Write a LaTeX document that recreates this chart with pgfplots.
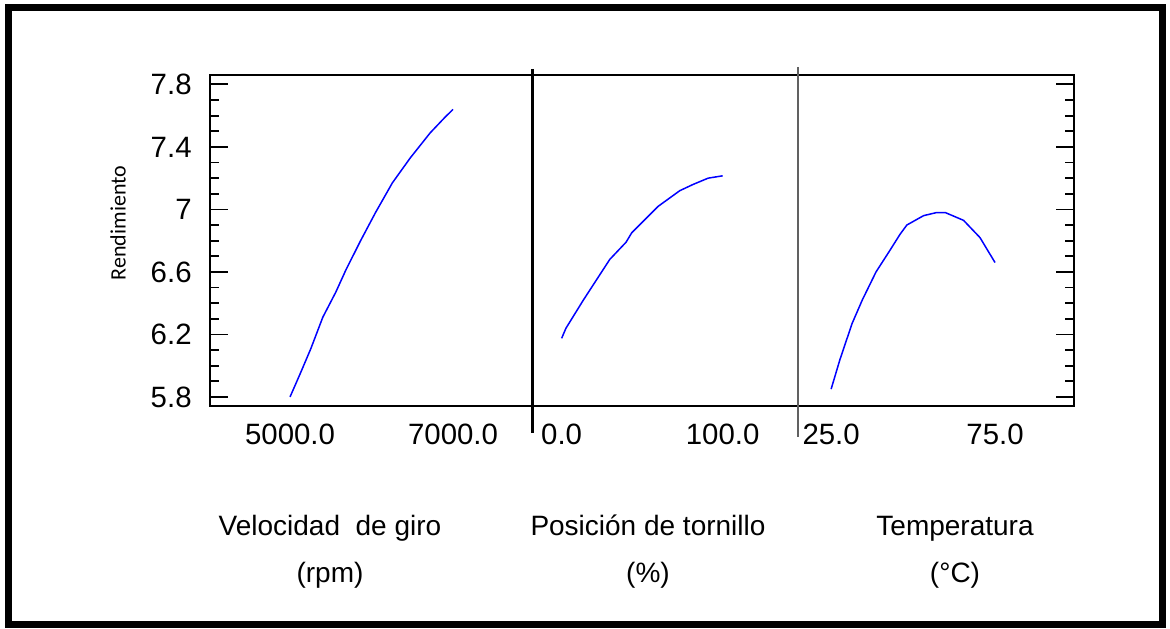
\documentclass[border=0pt]{standalone}
\usepackage{fontspec}
\setmainfont{Liberation Sans}
\newfontfamily\calfont{Carlito}
\usepackage{pgfplots}
\pgfplotsset{compat=1.18}

\pgfplotsset{
  panel/.style={
    scale only axis,
    height=165.5pt,
    ymin=5.742, ymax=7.86,
    axis line style={line width=0.9pt, black},
    tick align=inside,
    major tick length=9pt,
    minor tick length=4.5pt,
    every tick/.style={line width=0.9pt, black},
    xtick style={draw=none},
    minor y tick num=3,
    ytick={5.8,6.2,6.6,7,7.4,7.8},
    /pgf/number format/assume math mode=true,
    ticklabel style={font=\fontsize{14.7}{16}\selectfont},
    xticklabel style={anchor=base, yshift=-19pt},
    yticklabel style={anchor=east, inner sep=0pt, xshift=-9pt},
    clip=false,
  },
  curve/.style={blue, line width=0.75pt},
}

\begin{document}
\begin{tikzpicture}[x=0.5pt,y=0.5pt]
\useasboundingbox (0,0) rectangle (1170,628);
\draw[line width=3.5pt] (8,3.5) rectangle (1162,620.5);

% velocidad de giro
\begin{axis}[panel, at={(105pt,111pt)}, anchor=south west, width=161pt,
  xmin=4018, xmax=7969,
  xtick={5000,7000}, xticklabels={5000.0,7000.0},
  ytick pos=left]
\addplot[curve] coordinates {
  (5000,5.80) (5134,5.96) (5256,6.11) (5402,6.31) (5561,6.47)
  (5683,6.61) (5866,6.80) (6049,6.98) (6256,7.17) (6476,7.33)
  (6720,7.49) (6902,7.59) (7000,7.64)
};
\end{axis}

% posicion de tornillo
\begin{axis}[panel, at={(266pt,111pt)}, anchor=south west, width=133pt,
  xmin=-18.4, xmax=146.8,
  xtick={0,100}, xticklabels={0.0,100.0},
  ytick=\empty, minor y tick num=0]
\addplot[curve] coordinates {
  (0,6.175) (2.7,6.24) (13.5,6.42) (29.9,6.68) (40,6.79) (43.5,6.85)
  (60,7.02) (73.4,7.12) (81.7,7.16) (91,7.20) (100,7.215)
};
\end{axis}

% temperatura
\begin{axis}[panel, at={(399pt,111pt)}, anchor=south west, width=138pt,
  xmin=14.9, xmax=99.1,
  xtick={25,75}, xticklabels={25.0,75.0},
  ytick pos=right, yticklabels={}]
\addplot[curve] coordinates {
  (25,5.85) (27.7,6.04) (31.4,6.27) (34.5,6.42) (38.7,6.60) (43,6.74)
  (46,6.84) (48.1,6.90) (53.2,6.96) (57.2,6.98) (59.8,6.98) (65.4,6.93)
  (70.4,6.82) (75,6.66)
};
\end{axis}

% separadores
\draw[line width=1.5pt, black] (532,559) -- (532,195);
\draw[line width=1pt, black!62] (798,561) -- (798,191);

\node[rotate=90, font=\calfont\fontsize{11}{13}\selectfont] at (118,405) {Rendimiento};

\begin{scope}[every node/.style={anchor=base, font=\fontsize{14}{16}\selectfont}]
\node at (330,93) {Velocidad\ \ de giro};
\node at (330,46) {(rpm)};
\node at (648,93) {Posición de tornillo};
\node at (648,46) {(\%)};
\node at (955,93) {Temperatura};
\node at (955,46) {(°C)};
\end{scope}
\end{tikzpicture}
\end{document}
